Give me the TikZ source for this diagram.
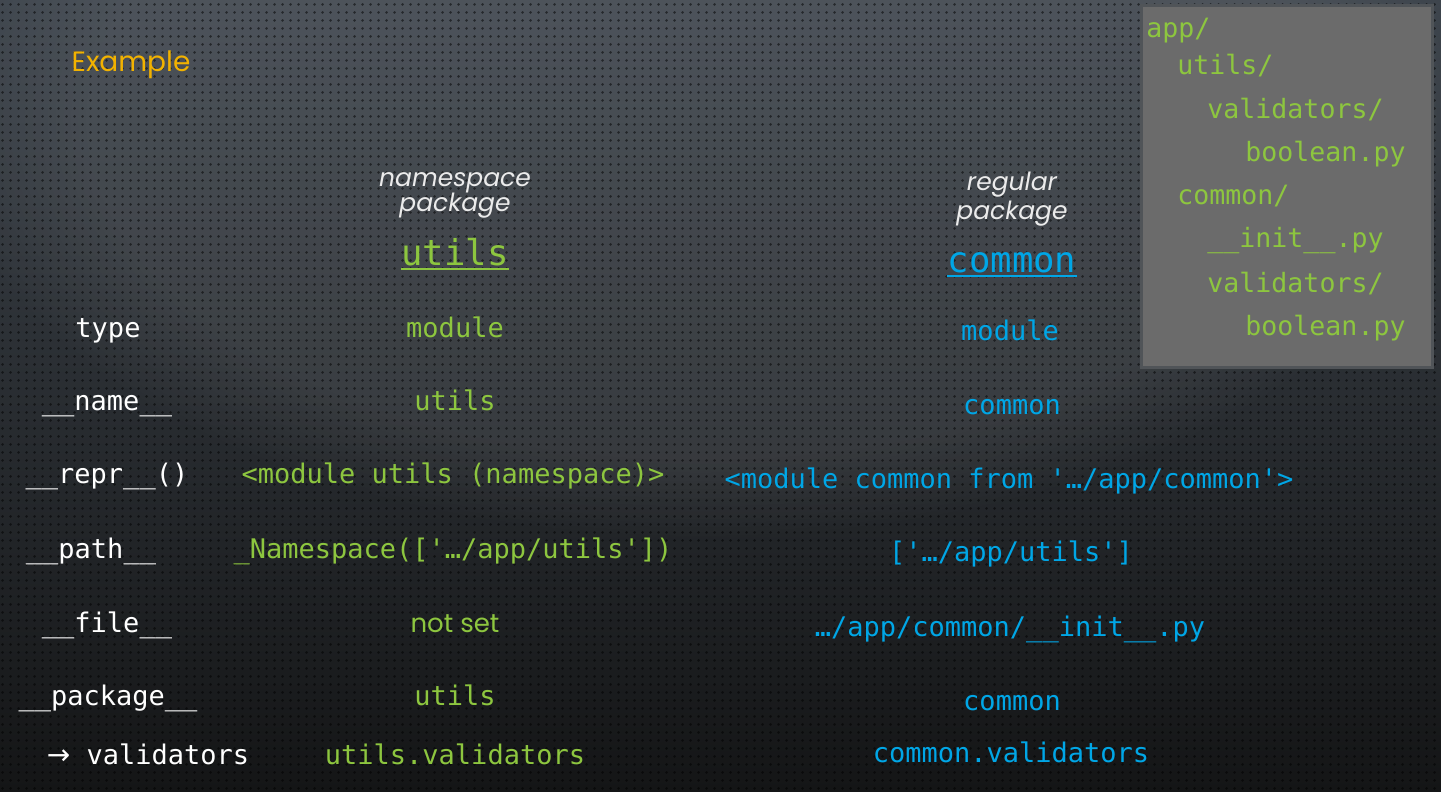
\documentclass[tikz,border=0pt]{standalone}
\usepackage{fontspec}
\setmainfont{Poppins}
\setmonofont{DejaVu Sans Mono}
\newfontfamily\arrowfont{DejaVu Sans}
\usetikzlibrary{patterns,fadings}
\definecolor{bgtop}{HTML}{3E454D}
\definecolor{bgmid}{HTML}{2A2E33}
\definecolor{bgbot}{HTML}{141516}
\definecolor{nsgreen}{HTML}{8DC63F}
\definecolor{rgblue}{HTML}{00A6E6}
\definecolor{exgold}{HTML}{F2B200}
\definecolor{boxgray}{HTML}{6B6B6B}
\definecolor{boxedge}{HTML}{505458}
\newcommand\pyq{\char"27 }
\pgfdeclarepatternformonly{holes}{\pgfpointorigin}{\pgfpoint{4pt}{4pt}}{\pgfpoint{4pt}{4pt}}{%
    \pgfpathcircle{\pgfpoint{2pt}{2pt}}{0.8pt}\pgfusepath{fill}}
\tikzset{
    LB/.style ={anchor=base, inner sep=0pt, text=white, font=\ttfamily\fontsize{13.5}{16}\selectfont},
    NS/.style ={LB, text=nsgreen},
    RG/.style ={LB, text=rgblue},
    HD/.style ={anchor=base, inner sep=0pt, font=\ttfamily\fontsize{17.8}{20}\selectfont},
    KD/.style ={anchor=base, inner sep=0pt, text=white!92!black, font=\itshape\fontsize{12.5}{14}\selectfont},
    TR/.style ={anchor=base west, inner sep=0pt, text=nsgreen, font=\ttfamily\fontsize{13.3}{16}\selectfont},
    UL/.style ={line width=1pt}
}
\begin{document}
\begin{tikzpicture}[x=0.5pt,y=-0.5pt]
        \useasboundingbox (0,0) rectangle (1441,792);
        \shade[top color=bgtop, middle color=bgmid, bottom color=bgbot] (0,0) rectangle (1441,792);
        \fill[white, opacity=0.08, path fading=circle with fuzzy edge 20 percent] (700,120) ellipse (760 and 420);
        \fill[pattern=holes, pattern color=black, opacity=0.5] (0,0) rectangle (1441,792);
        % folder tree
        \draw[fill=boxgray, draw=boxedge, line width=1.5pt] (1141,6) rectangle (1432,367);
        \node[TR] (t1) at (1146,38) {app/};
        \node[TR] (t2) at (1177,75) {utils/};
        \node[TR] (t3) at (1207,119) {validators/};
        \node[TR] (t4) at (1245,162) {boolean.py};
        \node[TR] (t5) at (1177,205) {common/};
        \node[TR] (t6) at (1207,248) {\_\_init\_\_.py};
        \node[TR] (t7) at (1207,292) {validators/};
        \node[TR] (t8) at (1245,335) {boolean.py};
        % headings
        \node[anchor=base, inner sep=0pt, text=exgold, font=\fontsize{14}{16}\selectfont] (ex) at (131,72) {Example};
        \node[KD] (nsk1) at (455,186) {namespace};
        \node[KD] (nsk2) at (455,212) {package};
        \node[KD] (rgk1) at (1012,191) {regular};
        \node[KD] (rgk2) at (1012,220) {package};
        \node[HD, text=nsgreen] (nsh) at (455,265) {utils};
        \node[HD, text=rgblue] (rgh) at (1012,272) {common};
        \draw[UL, nsgreen] ([yshift=-2pt]nsh.base west) -- ([yshift=-2pt]nsh.base east);
        \draw[UL, rgblue] ([yshift=-2pt]rgh.base west) -- ([yshift=-2pt]rgh.base east);
        % attributes
        \node[LB] (l1) at (108,337) {type};
        \node[LB] (l2) at (107,410) {\_\_name\_\_};
        \node[LB] (l3) at (107,483) {\_\_repr\_\_()};
        \node[LB] (l4) at (91,558) {\_\_path\_\_};
        \node[LB] (l5) at (107,632) {\_\_file\_\_};
        \node[LB] (l6) at (108,705) {\_\_package\_\_};
        \node[LB] (l7) at (148,764) {{\arrowfont\fontsize{14}{16}\selectfont →} validators};
        % namespace package
        \node[NS] (n1) at (455,337) {module};
        \node[NS] (n2) at (455,410) {utils};
        \node[NS] (n3) at (453,483) {<module utils (namespace)>};
        \node[NS] (n4) at (453,558) {\_Namespace([\pyq…/app/utils\pyq])};
        \node[NS, font=\fontsize{13}{15}\selectfont] (n5) at (455,632) {not set};
        \node[NS] (n6) at (455,705) {utils};
        \node[NS] (n7) at (455,764) {utils.validators};
        % regular package
        \node[RG] (r1) at (1010,340) {module};
        \node[RG] (r2) at (1012,414) {common};
        \node[RG] (r3) at (1009,488) {<module common from \pyq…/app/common\pyq>};
        \node[RG] (r4) at (1011,561) {[\pyq…/app/utils\pyq]};
        \node[RG] (r5) at (1010,636) {…/app/common/\_\_init\_\_.py};
        \node[RG] (r6) at (1012,710) {common};
        \node[RG] (r7) at (1011,762) {common.validators};
    \end{tikzpicture}
\end{document}
